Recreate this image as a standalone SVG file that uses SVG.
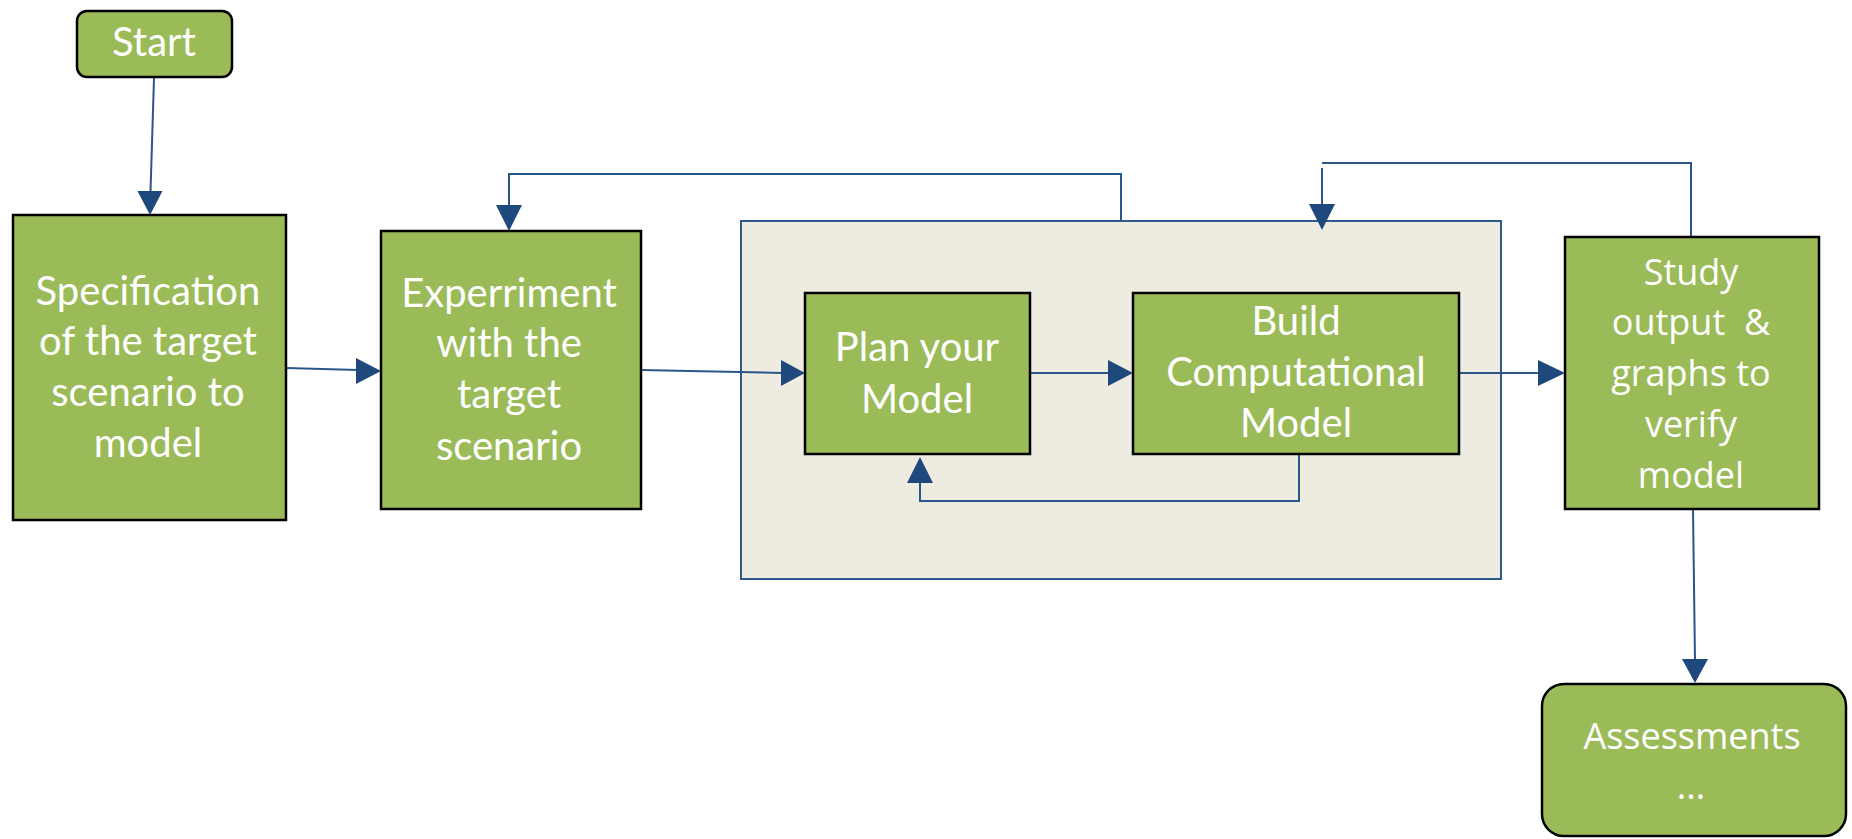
<svg xmlns="http://www.w3.org/2000/svg" width="1852" height="839" viewBox="0 0 1852 839">
<style>
.box{fill:#9BBB59;stroke:#000;stroke-width:2.5}
.cont{fill:#EEECE1;stroke:#2E5A8E;stroke-width:2}
.t{fill:#fff;font-family:Lato,"Liberation Sans",sans-serif;font-size:40px;text-anchor:middle}
.t2{fill:#fff;font-family:"Open Sans","Liberation Sans",sans-serif;font-size:36px;text-anchor:middle;white-space:pre}
.ln{fill:none;stroke:#2B5689;stroke-width:2}
.ar{fill:#1F497D}
</style>
<rect width="1852" height="839" fill="#fff"/>
<g id="container">
<rect class="cont" x="741" y="221" width="760" height="358"/>
</g>
<g id="connectors">
<line class="ln" x1="154" y1="78" x2="150.5" y2="192"/>
<polygon class="ar" points="137.5,191 162.5,191 150,215"/>
<line class="ln" x1="286" y1="368" x2="358" y2="370"/>
<polygon class="ar" points="356,358 356,384 381,371"/>
<line class="ln" x1="641" y1="370" x2="783" y2="373"/>
<polygon class="ar" points="781,360 781,386 805,373"/>
<line class="ln" x1="1030" y1="373" x2="1110" y2="373"/>
<polygon class="ar" points="1108,360 1108,386 1133,373"/>
<line class="ln" x1="1459" y1="373" x2="1540" y2="373"/>
<polygon class="ar" points="1538,360 1538,386 1565,373"/>
<polyline class="ln" points="1299,454 1299,501 920,501 920,482"/>
<polygon class="ar" points="907,483 933,483 920,457"/>
<polyline class="ln" points="1121,221 1121,174 509,174 509,206"/>
<polygon class="ar" points="496,205 522,205 509,231"/>
<polyline class="ln" points="1691,237 1691,163 1322,163"/>
<line class="ln" x1="1322" y1="168" x2="1322" y2="206"/>
<polygon class="ar" points="1309,204 1335,204 1322,230"/>
<line class="ln" x1="1693" y1="510" x2="1695" y2="661"/>
<polygon class="ar" points="1682,659 1708,659 1695,683"/>
</g>
<g id="start">
<rect class="box" x="77" y="11" width="155" height="66" rx="10"/>
<text class="t" x="154" y="56">Start</text>
</g>
<g id="spec">
<rect class="box" x="13" y="215" width="273" height="305"/>
<text class="t" x="148" y="305">Specification</text>
<text class="t" x="148" y="355">of the target</text>
<text class="t" x="148" y="406">scenario to</text>
<text class="t" x="148" y="457">model</text>
</g>
<g id="experiment">
<rect class="box" x="381" y="231" width="260" height="278"/>
<text class="t" x="509" y="307">Experriment</text>
<text class="t" x="509" y="357">with the</text>
<text class="t" x="509" y="408">target</text>
<text class="t" x="509" y="460">scenario</text>
</g>
<g id="plan">
<rect class="box" x="805" y="293" width="225" height="161"/>
<text class="t" x="917" y="361">Plan your</text>
<text class="t" x="917" y="413">Model</text>
</g>
<g id="build">
<rect class="box" x="1133" y="293" width="326" height="161"/>
<text class="t" x="1296" y="335">Build</text>
<text class="t" x="1296" y="386">Computational</text>
<text class="t" x="1296" y="437">Model</text>
</g>
<g id="study">
<rect class="box" x="1565" y="237" width="254" height="272"/>
<text class="t2" x="1691" y="285">Study</text>
<text class="t2" x="1691" y="335">output  &amp;</text>
<text class="t2" x="1691" y="386">graphs to</text>
<text class="t2" x="1691" y="437">verify</text>
<text class="t2" x="1691" y="488">model</text>
</g>
<g id="assessments">
<rect class="box" x="1542" y="684" width="304" height="152" rx="22"/>
<text class="t2" x="1692" y="749">Assessments</text>
<text class="t2" x="1691" y="799">...</text>
</g>
</svg>
